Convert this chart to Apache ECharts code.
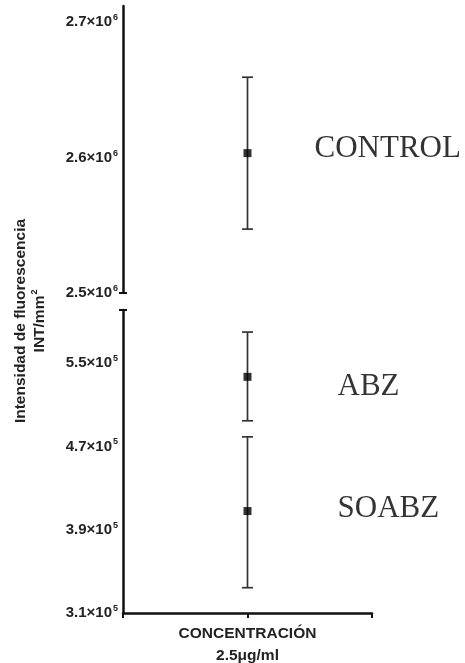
<!DOCTYPE html>
<html>
<head>
<meta charset="utf-8">
<script src="https://cdn.jsdelivr.net/npm/echarts@6/dist/echarts.min.js"></script>
<style>html,body{margin:0;padding:0;background:#fff}#c{width:465px;height:663px}</style>
</head>
<body>
<div id="c"></div>
<script>
// ---- data ----
const groups = ['CONTROL', 'ABZ', 'SOABZ'];
const meanValues = [2603300, 536800, 407900];
const lowValues = [2547200, 494600, 334300];
const highValues = [2659400, 579800, 479200];
const panelOf = [0, 1, 1];               // 0 = upper segment, 1 = lower segment
const upperTicks = [2500000, 2600000, 2700000];
const lowerTicks = [310000, 390000, 470000, 550000];
const upperRange = [2500000, 2712000];
const lowerRange = [310000, 601000];
const xCategories = ['', 'CONCENTRACIÓN\n2.5μg/ml', ''];
const xIndex = 1;
const yTitle = ['Intensidad de fluorescencia', 'INT/mm', '2'];

// ---- styling ----
const sans = 'Liberation Sans, Arial, sans-serif';
const serif = 'Liberation Serif, Times New Roman, serif';
const labelOffsets = [[63, -4], [86, 10], [86, -2]];

function sciFmt(v) {
  const parts = Number(v).toExponential(1).split('e');
  return '{n|' + parts[0] + '×10}{s|' + parseInt(parts[1], 10) + '}';
}
const tickRich = {
  n: { fontFamily: sans, fontWeight: 'bold', fontSize: 15, color: '#222' },
  s: { fontFamily: sans, fontWeight: 'bold', fontSize: 9, color: '#222', verticalAlign: 'top', padding: [0, 0, 9, 1] }
};

function yAxisMain(grid, range, ticks) {
  return {
    type: 'value', gridIndex: grid, min: range[0], max: range[1], position: 'left',
    splitLine: { show: false },
    axisLine: { show: true, onZero: false, lineStyle: { color: '#111', width: 2.5 } },
    axisTick: { show: true, customValues: [grid === 0 ? range[0] : range[1]], length: 4, lineStyle: { color: '#111', width: 2 } },
    axisLabel: { customValues: ticks, formatter: sciFmt, rich: tickRich, margin: 5 }
  };
}
function yAxisCap(grid, range) {
  return {
    type: 'value', gridIndex: grid, min: range[0], max: range[1], position: 'left',
    splitLine: { show: false },
    axisLine: { show: false },
    axisLabel: { show: false },
    axisTick: { show: true, inside: true, customValues: [grid === 0 ? range[0] : range[1]], length: 4, lineStyle: { color: '#111', width: 2 } }
  };
}

function errorSeries(panel) {
  const data = [];
  groups.forEach((g, i) => { if (panelOf[i] === panel) data.push([xIndex, lowValues[i], highValues[i]]); });
  return {
    type: 'custom', xAxisIndex: panel, yAxisIndex: panel * 2, z: 3,
    encode: { x: 0, y: [1, 2] },
    data: data,
    renderItem: function (params, api) {
      const x = api.value(0);
      const pHi = api.coord([x, api.value(2)]);
      const pLo = api.coord([x, api.value(1)]);
      const w = 5.5;
      const st = { stroke: '#333', lineWidth: 1.7 };
      return {
        type: 'group', children: [
          { type: 'line', shape: { x1: pHi[0], y1: pHi[1], x2: pLo[0], y2: pLo[1] }, style: st },
          { type: 'line', shape: { x1: pHi[0] - w, y1: pHi[1], x2: pHi[0] + w, y2: pHi[1] }, style: st },
          { type: 'line', shape: { x1: pLo[0] - w, y1: pLo[1], x2: pLo[0] + w, y2: pLo[1] }, style: st }
        ]
      };
    }
  };
}
function pointSeries(panel) {
  const data = [];
  groups.forEach((g, i) => {
    if (panelOf[i] === panel) data.push({
      name: g, value: [xIndex, meanValues[i]],
      label: { offset: labelOffsets[i] }
    });
  });
  return {
    type: 'scatter', xAxisIndex: panel, yAxisIndex: panel * 2, z: 4,
    symbol: 'rect', symbolSize: 8, itemStyle: { color: '#000' },
    label: {
      show: true, position: 'right', distance: 0, formatter: '{b}',
      fontFamily: serif, fontSize: 31, color: '#000', verticalAlign: 'middle'
    },
    data: data
  };
}

const chart = echarts.init(document.getElementById('c'), null, { renderer: 'canvas' });
chart.setOption({
  animation: false,
  backgroundColor: '#fff',
  grid: [
    { left: 123, right: 93, top: 6, height: 287, outerBoundsMode: 'none', containLabel: false },
    { left: 123, right: 93, top: 310, height: 303, outerBoundsMode: 'none', containLabel: false }
  ],
  xAxis: [
    { type: 'category', gridIndex: 0, data: xCategories, boundaryGap: false, show: false },
    {
      type: 'category', gridIndex: 1, data: xCategories, boundaryGap: false,
      axisLine: { lineStyle: { color: '#111', width: 2.5 } },
      axisTick: { show: true, length: 5, lineStyle: { color: '#111', width: 2 } },
      axisLabel: {
        interval: 0, margin: 10, fontFamily: sans, fontWeight: 'bold', fontSize: 15.5,
        lineHeight: 22, color: '#222', align: 'center'
      }
    }
  ],
  yAxis: [
    yAxisMain(0, upperRange, upperTicks), yAxisCap(0, upperRange),
    yAxisMain(1, lowerRange, lowerTicks), yAxisCap(1, lowerRange)
  ],
  graphic: [{
    type: 'text', x: 30, y: 321, rotation: Math.PI / 2,
    style: {
      text: '{t|' + yTitle[0] + '}\n{t|' + yTitle[1] + '}{s|' + yTitle[2] + '}',
      align: 'center', verticalAlign: 'middle',
      rich: {
        t: { fontFamily: sans, fontWeight: 'bold', fontSize: 15.5, lineHeight: 19, fill: '#222' },
        s: { fontFamily: sans, fontWeight: 'bold', fontSize: 9, fill: '#222', verticalAlign: 'top', padding: [0, 0, 9, 1] }
      }
    }
  }],
  series: [errorSeries(0), pointSeries(0), errorSeries(1), pointSeries(1)]
});
</script>
</body>
</html>
